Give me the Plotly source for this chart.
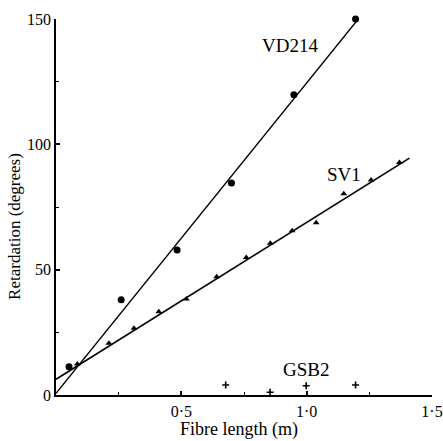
import plotly.graph_objects as go

# VD214 (filled circles)
vd_x = [0.052, 0.26, 0.483, 0.70, 0.949, 1.195]
vd_y = [11.3, 38.0, 57.8, 84.6, 119.8, 150.0]
vd_fit_x = [0.0, 1.21]
vd_fit_y = [0.7, 150.5]

# SV1 (small triangles)
sv_x = [0.085, 0.211, 0.311, 0.41, 0.52, 0.641, 0.759, 0.855, 0.942, 1.038, 1.148, 1.257, 1.37]
sv_y = [12.4, 20.6, 26.6, 33.2, 38.3, 47.2, 54.9, 60.5, 65.5, 68.7, 80.3, 85.8, 92.8]
sv_fit_x = [0.0, 1.41]
sv_fit_y = [6.3, 94.5]

# GSB2 (crosses)
gsb_x = [0.677, 0.854, 0.998, 1.195]
gsb_y = [4.0, 1.1, 3.7, 4.0]

x_tickvals = [0.5, 1.0, 1.5]
x_ticktext = ["0·5", "1·0", "1·5"]
x_minor = [0.25, 0.75, 1.25]
y_tickvals = [0, 50, 100, 150]
y_ticktext = ["0", "50", "100", "150"]
y_minor = [25, 75, 125]

labels = [("VD214", 0.934, 139.6), ("SV1", 1.149, 87.8), ("GSB2", 0.997, 10.0)]
x_title = "Fibre length (m)"
y_title = "Retardation (degrees)"

FONT = "Liberation Serif"

fig = go.Figure()
fig.add_trace(go.Scatter(x=vd_fit_x, y=vd_fit_y, mode="lines",
                         line=dict(color="black", width=1.4), showlegend=False))
fig.add_trace(go.Scatter(x=sv_fit_x, y=sv_fit_y, mode="lines",
                         line=dict(color="black", width=1.7), showlegend=False))
fig.add_trace(go.Scatter(x=vd_x, y=vd_y, mode="markers",
                         marker=dict(symbol="circle", size=7, color="black"),
                         showlegend=False, cliponaxis=False))
fig.add_trace(go.Scatter(x=sv_x, y=sv_y, mode="markers",
                         marker=dict(symbol="triangle-up", size=6, color="black"),
                         showlegend=False, cliponaxis=False))
fig.add_trace(go.Scatter(x=gsb_x, y=gsb_y, mode="markers",
                         marker=dict(symbol="cross-thin", size=5, color="black",
                                     line=dict(color="black", width=1.6)),
                         showlegend=False, cliponaxis=False))

for text, x, y in labels:
    fig.add_annotation(x=x, y=y, text=text, showarrow=False,
                       font=dict(family=FONT, size=19, color="black"))

# axis titles
fig.add_annotation(xref="paper", yref="paper", x=0.486, y=0, yshift=-34,
                   xanchor="center", yanchor="middle", text=x_title, showarrow=False,
                   font=dict(family=FONT, size=18, color="black"))
fig.add_annotation(xref="paper", yref="paper", x=0, y=0.447, xshift=-41,
                   xanchor="center", yanchor="middle", text=y_title, showarrow=False,
                   textangle=-90, font=dict(family=FONT, size=17, color="black"))

fig.update_xaxes(range=[0, 1.5], tickvals=x_tickvals, ticktext=x_ticktext,
                 ticks="inside", ticklen=4, tickwidth=1.5, tickcolor="black",
                 showline=True, linecolor="black", linewidth=2.4,
                 showgrid=False, zeroline=False, automargin=False,
                 ticklabeloverflow="allow",
                 minor=dict(tickvals=x_minor, ticks="inside", ticklen=3,
                            tickcolor="black", tickwidth=1.2),
                 tickfont=dict(family=FONT, size=16, color="black"),
                 ticklabelstandoff=1)
fig.update_yaxes(range=[0, 150], tickvals=y_tickvals, ticktext=y_ticktext,
                 ticks="inside", ticklen=4, tickwidth=1.5, tickcolor="black",
                 showline=True, linecolor="black", linewidth=1.7,
                 showgrid=False, zeroline=False, automargin=False,
                 ticklabeloverflow="allow",
                 minor=dict(tickvals=y_minor, ticks="inside", ticklen=3,
                            tickcolor="black", tickwidth=1.2),
                 tickfont=dict(family=FONT, size=16, color="black"),
                 ticklabelstandoff=0)

fig.update_layout(width=443, height=441,
                  margin=dict(l=56, r=11, t=19, b=46),
                  paper_bgcolor="white", plot_bgcolor="white",
                  font=dict(family=FONT, color="black"))

fig.write_html("out.html")
